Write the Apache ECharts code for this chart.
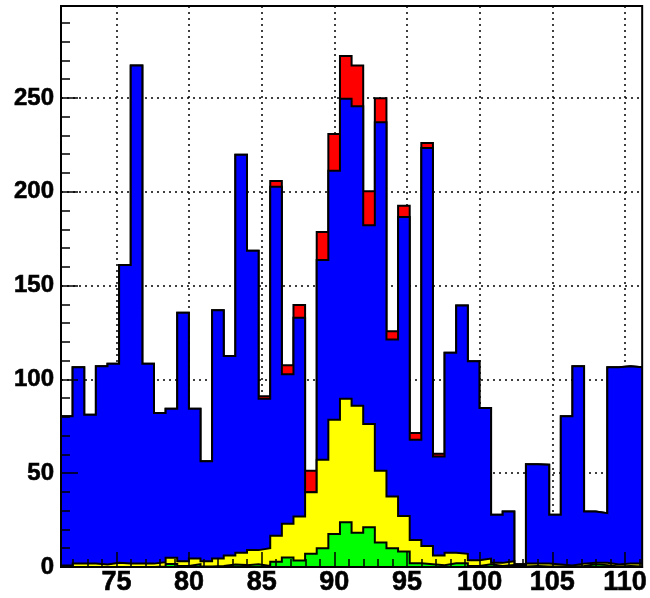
<!DOCTYPE html>
<html><head><meta charset="utf-8">
<script src="https://cdn.jsdelivr.net/npm/echarts@6/dist/echarts.min.js"></script>
<style>html,body{margin:0;padding:0;background:#fff}#chart{width:650px;height:598px}</style>
</head><body><div id="chart"></div>
<script>
// Histogram binning (50 bins of 0.8 around the Z mass window)
const binLow = 71.1876;
const binWidth = 0.8;
const nBins = 50;

// Stacked histogram levels (cumulative top of each drawn layer), per bin
const greenTop = [0,0,0,0,0,0,0,0,0.3,1.6,0.5,1.5,0.3,0.5,1.3,1.0,1.5,0.5,2.8,5.0,3.4,7.1,10.0,17.6,23.9,18.3,21.2,13.0,10.0,8.2,2.0,1.5,1.0,2.0,2.0,0.5,1.5,0.5,1.0,0.3,0.5,0.3,0.3,0.3,0.5,1.5,1.0,0.3,0.5,0.3];
const yellowTop = [0.8,1.9,1.9,1.3,2.2,1.8,1.8,1.8,2.6,4.9,3.1,4.5,3.1,4.5,6.1,7.6,9.0,10.0,16.7,23.0,26.9,39.9,57.2,78.5,89.7,86.0,76.2,51.3,37.6,27.2,14.4,11.2,6.1,7.6,7.0,3.6,4.5,2.2,3.1,0.8,1.9,1.8,1.3,0.8,1.8,2.2,2.2,1.3,1.9,1.9];
const blueTop = [80.3,106.5,81.2,107.0,108.3,161.0,267.3,108.3,82.1,84.4,135.5,84.4,56.3,136.9,112.4,219.7,168.6,89.7,202.6,102.7,132.8,39.9,163.6,211.2,249.5,245.6,182.2,237.0,121.3,186.6,67.8,223.3,58.9,114.2,139.4,109.7,84.8,27.8,29.6,1.5,54.8,54.5,27.8,80.3,107.0,29.6,28.7,106.5,107.0,106.5];
const redTop = [80.3,106.5,81.2,107.0,108.3,161.0,267.3,108.3,82.1,84.4,135.5,84.4,56.3,136.9,112.4,219.7,168.6,91.0,205.7,107.5,139.6,51.3,178.6,230.8,272.3,267.3,200.2,249.8,125.7,192.5,71.4,226.0,60.4,114.2,139.4,109.7,84.8,27.8,29.6,1.5,54.8,54.5,27.8,80.3,107.0,29.6,28.7,106.5,107.0,106.5];

// Axis ticks
const xMajorTicks = [75,80,85,90,95,100,105,110];
const xMinorTicks = [72,73,74,75,76,77,78,79,80,81,82,83,84,85,86,87,88,89,90,91,92,93,94,95,96,97,98,99,100,101,102,103,104,105,106,107,108,109,110,111];
const yMajorTicks = [0,50,100,150,200,250];
const yMinorTicks = [10,20,30,40,60,70,80,90,110,120,130,140,160,170,180,190,210,220,230,240,260,270,280,290];
const yMax = 299;

const xMin = binLow, xMax = binLow + nBins * binWidth;

function stepData(vals) {
  const d = vals.map((v, i) => [binLow + i * binWidth, v]);
  d.push([binLow + vals.length * binWidth, vals[vals.length - 1]]);
  return d;
}

const FONT = 'Liberation Sans';
const black = '#000';

function xAx(extra) {
  return Object.assign({type: 'value', min: xMin, max: xMax, position: 'bottom',
    axisLine: {show: false}, axisTick: {show: false}, axisLabel: {show: false},
    splitLine: {show: false}}, extra);
}
function yAx(extra) {
  return Object.assign({type: 'value', min: 0, max: yMax, position: 'left',
    axisLine: {show: false}, axisTick: {show: false}, axisLabel: {show: false},
    splitLine: {show: false}}, extra);
}

const gridLine = {show: true, lineStyle: {color: black, width: 1.5, type: [2, 4]}};

function histSeries(name, vals, color, z) {
  return {
    name: name, type: 'line', step: 'end', symbol: 'none', showSymbol: false,
    xAxisIndex: 0, yAxisIndex: 0, z: z, animation: false, clip: true,
    data: stepData(vals),
    lineStyle: {color: black, width: 2, join: 'miter'},
    areaStyle: {color: color, opacity: 1}
  };
}

const chart = echarts.init(document.getElementById('chart'), null, {renderer: 'canvas'});
chart.setOption({
  animation: false,
  backgroundColor: '#fff',
  grid: {left: 61, right: 7, top: 6, bottom: 31, show: true, borderColor: black, borderWidth: 2, z: 10, backgroundColor: 'transparent'},
  xAxis: [
    xAx({z: 0, axisTick: {show: false, customValues: xMajorTicks},
      axisLabel: {show: true, customValues: xMajorTicks, fontFamily: FONT, fontWeight: 'bold', fontSize: 27, color: black, margin: 2,
        textBorderColor: black, textBorderWidth: 0.6},
      splitLine: gridLine}),
    xAx({z: 10, axisLine: {show: true, lineStyle: {color: black, width: 2}},
      axisTick: {show: true, inside: true, length: 15, customValues: xMajorTicks, lineStyle: {color: black, width: 1.5}}}),
    xAx({z: 10, axisTick: {show: true, inside: true, length: 8, customValues: xMinorTicks, lineStyle: {color: black, width: 1.5}}})
  ],
  yAxis: [
    yAx({z: 0, axisTick: {show: false, customValues: yMajorTicks},
      axisLabel: {show: true, customValues: yMajorTicks, fontFamily: FONT, fontWeight: 'bold', fontSize: 24, color: black, margin: 7,
        textBorderColor: black, textBorderWidth: 0.6},
      splitLine: gridLine}),
    yAx({z: 10, axisLine: {show: true, lineStyle: {color: black, width: 2}},
      axisTick: {show: true, inside: true, length: 17, customValues: yMajorTicks, lineStyle: {color: black, width: 1.5}}}),
    yAx({z: 10, axisTick: {show: true, inside: true, length: 9, customValues: yMinorTicks, lineStyle: {color: black, width: 1.5}}})
  ],
  series: [
    histSeries('red', redTop, '#ff0000', 2),
    histSeries('blue', blueTop, '#0000ff', 3),
    histSeries('yellow', yellowTop, '#ffff00', 4),
    histSeries('green', greenTop, '#00ff00', 5)
  ]
});
</script>
</body></html>
